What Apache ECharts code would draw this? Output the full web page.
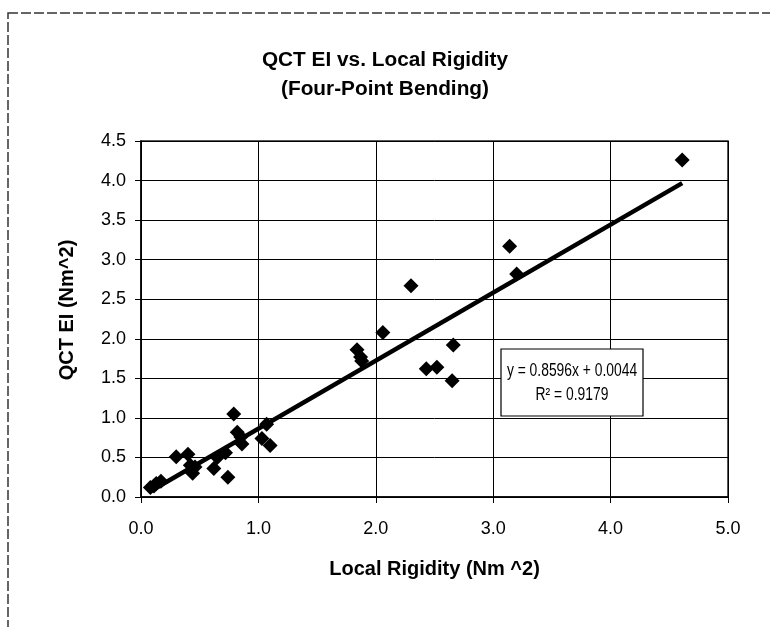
<!DOCTYPE html>
<html><head><meta charset="utf-8">
<script src="https://cdn.jsdelivr.net/npm/echarts@6/dist/echarts.min.js"></script>
<style>html,body{margin:0;padding:0;background:#fff}#c{width:770px;height:627px}</style>
</head><body><div id="c"></div>
<script>
// Data
const localRigidity = [0.08,0.11,0.13,0.17,0.30,0.40,0.42,0.44,0.46,0.62,0.65,0.72,0.74,0.79,0.82,0.85,0.86,1.03,1.07,1.10,1.84,1.87,1.88,2.06,2.30,2.43,2.52,2.65,2.66,3.14,3.20,4.61];
const qctEI         = [0.12,0.14,0.17,0.20,0.51,0.54,0.40,0.30,0.38,0.36,0.50,0.56,0.25,1.05,0.82,0.76,0.67,0.74,0.92,0.65,1.86,1.77,1.72,2.08,2.67,1.62,1.64,1.47,1.92,3.17,2.82,4.26];
const trendSlope = 0.8596;
const trendIntercept = 0.0044;
const rSquared = 0.9179;
const titleLines = ['QCT EI vs. Local Rigidity', '(Four-Point Bending)'];
const xAxisTitle = 'Local Rigidity (Nm ^2)';
const yAxisTitle = 'QCT EI (Nm^2)';

const points = localRigidity.map((x, i) => [x, qctEI[i]]);
const xMin = Math.min(...localRigidity), xMax = Math.max(...localRigidity);
const trend = [[xMin, trendSlope * xMin + trendIntercept], [xMax, trendSlope * xMax + trendIntercept]];

const FONT = '"Liberation Sans", Arial, sans-serif';
const chart = echarts.init(document.getElementById('c'), null, {renderer: 'canvas'});
chart.setOption({
  animation: false,
  backgroundColor: '#fff',
  grid: {left: 141, top: 141, width: 587, height: 356, show: true, borderColor: '#222', borderWidth: 1.5, backgroundColor: 'transparent'},
  xAxis: {
    type: 'value', min: 0, max: 5, interval: 1,
    name: xAxisTitle, nameLocation: 'middle', nameGap: 62,
    nameTextStyle: {fontFamily: FONT, fontWeight: 'bold', fontSize: 20, color: '#000'},
    axisLine: {show: true, onZero: false, lineStyle: {color: '#000', width: 1.5}},
    axisTick: {show: true, inside: false, length: 6, lineStyle: {color: '#000'}},
    axisLabel: {fontFamily: FONT, fontSize: 18, color: '#000', margin: 23, formatter: v => v.toFixed(1)},
    splitLine: {show: true, lineStyle: {color: '#000', width: 1}}
  },
  yAxis: {
    type: 'value', min: 0, max: 4.5, interval: 0.5,
    axisLine: {show: true, onZero: false, lineStyle: {color: '#000', width: 1.5}},
    axisTick: {show: true, inside: false, length: 6, lineStyle: {color: '#000'}},
    axisLabel: {fontFamily: FONT, fontSize: 18, color: '#000', margin: 15, formatter: v => v.toFixed(1)},
    splitLine: {show: true, lineStyle: {color: '#000', width: 1}}
  },
  series: [
    {type: 'line', data: trend, showSymbol: false, symbol: 'none', lineStyle: {color: '#000', width: 4.5}, z: 2, silent: true},
    {type: 'scatter', data: points, symbol: 'diamond', symbolSize: [15, 15], itemStyle: {color: '#000', opacity: 1}, z: 3}
  ],
  graphic: [
    {type: 'rect', shape: {x: 8, y: 13, width: 780, height: 640}, style: {fill: 'none', stroke: '#333', lineWidth: 1.5, lineDash: [10, 3]}, z: -10, silent: true},
    {type: 'text', x: 385, y: 60, scaleX: 1.04, style: {text: titleLines[0], font: 'bold 20px ' + FONT, fill: '#000', align: 'center', verticalAlign: 'middle'}},
    {type: 'text', x: 385, y: 89, scaleX: 1.04, style: {text: titleLines[1], font: 'bold 20px ' + FONT, fill: '#000', align: 'center', verticalAlign: 'middle'}},
    {type: 'text', x: 67, y: 310, rotation: Math.PI / 2, style: {text: yAxisTitle, font: 'bold 20px ' + FONT, fill: '#000', align: 'center', verticalAlign: 'middle'}},
    {type: 'rect', shape: {x: 501, y: 349, width: 142, height: 67}, style: {fill: '#fff', stroke: '#000', lineWidth: 1.2}, z: 100},
    {type: 'text', x: 572, y: 371, scaleX: 0.77, z: 101, style: {text: 'y = ' + trendSlope.toFixed(4) + 'x + ' + trendIntercept.toFixed(4), font: '18px ' + FONT, fill: '#000', align: 'center', verticalAlign: 'middle'}},
    {type: 'text', x: 572, y: 395, scaleX: 0.77, z: 101, style: {text: 'R² = ' + rSquared.toFixed(4), font: '18px ' + FONT, fill: '#000', align: 'center', verticalAlign: 'middle'}}
  ]
});
</script></body></html>
